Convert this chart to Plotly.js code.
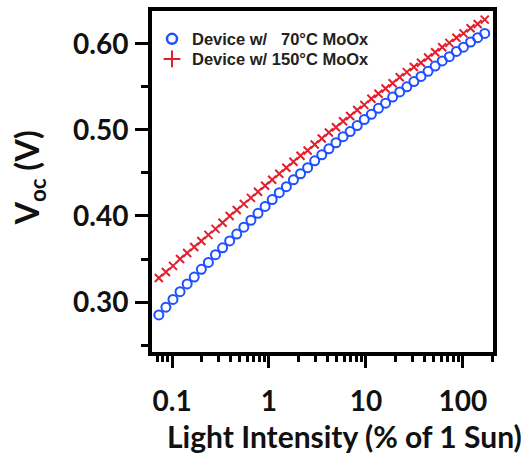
<!DOCTYPE html>
<html>
<head>
<meta charset="utf-8">
<script src="https://cdn.plot.ly/plotly-3.0.1.min.js"></script>
<style>html,body{margin:0;padding:0;background:#fff;}#chart{width:530px;height:453px;}</style>
</head>
<body>
<div id="chart"></div>
<script>
// Light intensity (% of 1 Sun)
const intensity = [0.0730, 0.0864, 0.1022, 0.1209, 0.1431, 0.1693, 0.2004, 0.2371, 0.2806, 0.3320,
  0.3929, 0.4649, 0.5501, 0.6510, 0.7703, 0.9115, 1.0786, 1.2763, 1.5103, 1.7871,
  2.1148, 2.5024, 2.9611, 3.5040, 4.1463, 4.9063, 5.8058, 6.8700, 8.1294, 9.6196,
  11.383, 13.470, 15.939, 18.861, 22.318, 26.409, 31.251, 36.979, 43.758, 51.779,
  61.271, 72.503, 85.793, 101.52, 120.13, 142.15, 168.21];
// Voc (V), device with 70°C MoOx
const voc70 = [0.285, 0.294, 0.303, 0.312, 0.321, 0.329, 0.338, 0.346, 0.355, 0.363,
  0.371, 0.379, 0.387, 0.395, 0.403, 0.411, 0.419, 0.427, 0.434, 0.442,
  0.449, 0.456, 0.464, 0.471, 0.478, 0.485, 0.492, 0.498, 0.505, 0.512,
  0.518, 0.525, 0.531, 0.538, 0.544, 0.550, 0.556, 0.562, 0.568, 0.574,
  0.580, 0.585, 0.591, 0.596, 0.602, 0.607, 0.612];
// Voc (V), device with 150°C MoOx
const voc150 = [0.328, 0.335, 0.342, 0.350, 0.357, 0.364, 0.371, 0.378, 0.385, 0.392,
  0.400, 0.407, 0.414, 0.421, 0.428, 0.435, 0.442, 0.449, 0.456, 0.463,
  0.470, 0.476, 0.483, 0.490, 0.497, 0.503, 0.510, 0.516, 0.523, 0.529,
  0.536, 0.542, 0.548, 0.554, 0.561, 0.567, 0.573, 0.578, 0.584, 0.590,
  0.596, 0.601, 0.607, 0.612, 0.618, 0.623, 0.628];
const seriesNames = ['Device w/\u00A0\u00A0 70°C MoOx', 'Device w/ 150°C MoOx'];
const xTickVals = [0.1, 1, 10, 100];
const xTickText = ['0.1', '1', '10', '100'];
const yTickVals = [0.30, 0.40, 0.50, 0.60];
const yTickText = ['0.30', '0.40', '0.50', '0.60'];

const BLUE = 'rgb(30,80,255)';
const RED = 'rgb(225,30,45)';
const tickFont = {family: 'Lato, "Open Sans", sans-serif', size: 28, color: '#111', weight: 'bold'};
const legendFont = {family: '"Liberation Sans", Arial, sans-serif', size: 16.5, color: '#222', weight: 'bold'};

const traces = [
  {x: intensity, y: voc70, mode: 'markers', type: 'scatter', showlegend: false, cliponaxis: false,
   marker: {symbol: 'circle-open', size: 9, color: BLUE, line: {width: 2, color: BLUE}}},
  {x: intensity, y: voc150, mode: 'markers', type: 'scatter', showlegend: false, cliponaxis: false,
   marker: {symbol: 'x-thin', size: 8, color: RED, line: {width: 2, color: RED}}},
  {x: [null], y: [null], mode: 'markers', type: 'scatter', name: seriesNames[0], legend: 'legend',
   marker: {symbol: 'circle-open', size: 10, color: BLUE, line: {width: 2.5, color: BLUE}}},
  {x: [null], y: [null], mode: 'markers', type: 'scatter', name: seriesNames[1], legend: 'legend2',
   marker: {symbol: 'cross-thin-open', size: 12, color: RED, line: {width: 2, color: RED}}}
];

const layout = {
  width: 530, height: 453,
  margin: {l: 152, r: 37, t: 11, b: 101},
  paper_bgcolor: '#fff', plot_bgcolor: '#fff',
  showlegend: true,
  legend: {x: 0.0, y: 0.969, xanchor: 'left', yanchor: 'top', bgcolor: 'rgba(0,0,0,0)',
    font: legendFont, tracegroupgap: 0, itemsizing: 'trace'},
  legend2: {x: 0.0, y: 0.910, xanchor: 'left', yanchor: 'top', bgcolor: 'rgba(0,0,0,0)',
    font: legendFont, tracegroupgap: 0, itemsizing: 'trace'},
  xaxis: {type: 'log', range: [-1.207, 2.311], tickmode: 'array', tickvals: xTickVals, ticktext: xTickText,
    ticks: 'outside', ticklen: 12, tickwidth: 3, tickcolor: '#000',
    minor: {dtick: 'D1', ticks: 'outside', ticklen: 6, tickwidth: 3, tickcolor: '#000', showgrid: false},
    showline: true, linewidth: 4, linecolor: '#000', mirror: true, showgrid: false, zeroline: false,
    tickfont: tickFont, ticklabelstandoff: 9},
  yaxis: {range: [0.242, 0.638], tickmode: 'array', tickvals: yTickVals, ticktext: yTickText,
    ticks: 'outside', ticklen: 13, tickwidth: 3, tickcolor: '#000',
    minor: {dtick: 0.05, ticks: 'outside', ticklen: 7, tickwidth: 3, tickcolor: '#000', showgrid: false},
    showline: true, linewidth: 4, linecolor: '#000', mirror: true, showgrid: false, zeroline: false,
    tickfont: tickFont, ticklabelstandoff: 1},
  annotations: [
    {text: 'Light Intensity (% of 1 Sun)', xref: 'paper', yref: 'paper', x: 0.565, y: -0.245,
     xanchor: 'center', yanchor: 'middle', showarrow: false,
     font: {family: 'Lato, "Open Sans", sans-serif', size: 30, color: '#111', weight: 'bold'}},
    {text: 'V<sub>oc</sub> (V)', xref: 'paper', yref: 'paper', x: -0.36, y: 0.51,
     xanchor: 'center', yanchor: 'middle', showarrow: false, textangle: -90,
     font: {family: 'Lato, "Open Sans", sans-serif', size: 32, color: '#111', weight: 'bold'}}
  ]
};

Plotly.newPlot('chart', traces, layout, {displayModeBar: false, staticPlot: true});
</script>
</body>
</html>
